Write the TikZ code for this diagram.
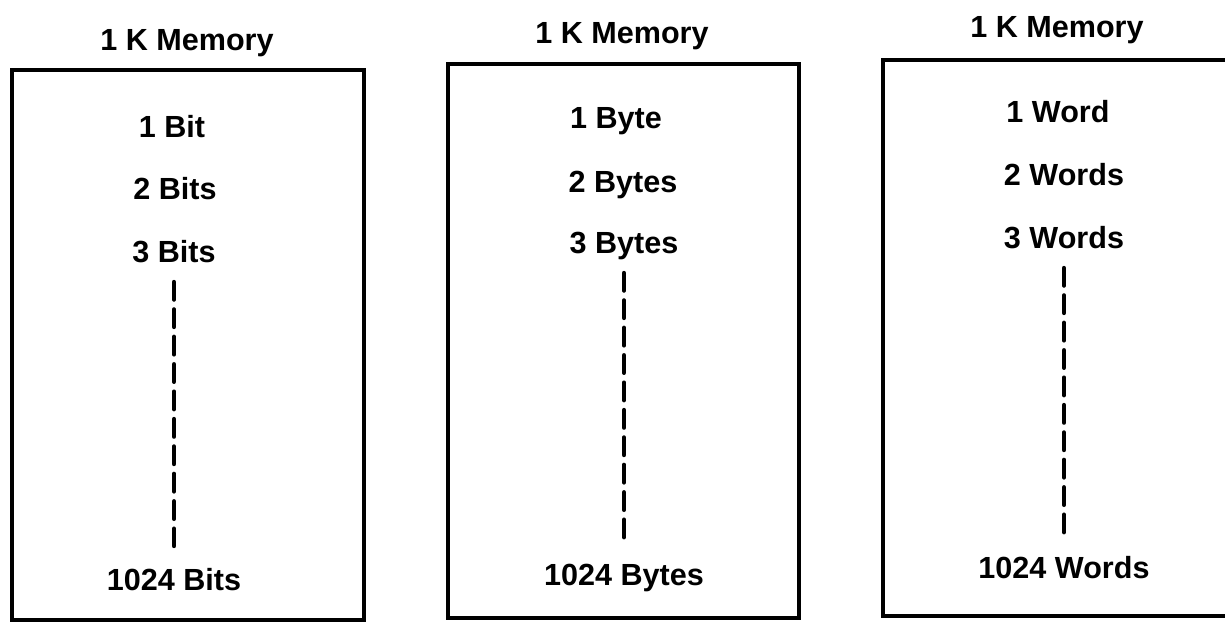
\documentclass[tikz,border=0pt]{standalone}
\usepackage{fontspec}
\setmainfont{Liberation Sans}
\usepackage{tikz}
\usetikzlibrary{positioning}

\begin{document}
\begin{tikzpicture}[
  x=0.02cm, y=-0.02cm,
  every node/.style={font=\fontsize{17.4}{20}\selectfont\bfseries, color=black},
  title/.style={anchor=base, inner sep=0pt},
  item/.style={anchor=base, inner sep=0pt},
  memBox/.style={draw=black, line width=2.6pt, line join=miter},
  dots/.style={draw=black, line width=2.5pt, line cap=round,
    dash pattern=on 10pt off 5.6pt, shorten <=0.4cm, shorten >=0.88cm}
]
\clip (0,0) rectangle (1225,623);

% --- Memory boxes ---
\draw[memBox] (12,70) rectangle (364,620);
\draw[memBox] (448,64) rectangle (799,618);
\draw[memBox] (1240,60) -- (883,60) -- (883,616) -- (1240,616);

% --- Box titles ---
\node[title] (memBit)  at (187,50) {1 K Memory};
\node[title] (memByte) at (622,43) {1 K Memory};
\node[title] (memWord) at (1057,37) {1 K Memory};

% --- Bits ---
\node[item] (bitA) at (172,137) {1 Bit};
\node[item] (bitB) at (175,199) {2 Bits};
\node[item] (bitC) at (174,262) {3 Bits};
\node[item] (bitN) at (174,590) {1024 Bits};

% --- Bytes ---
\node[item] (byteA) at (616,128) {1 Byte};
\node[item] (byteB) at (623,192) {2 Bytes};
\node[item] (byteC) at (624,253) {3 Bytes};
\node[item] (byteN) at (624,585) {1024 Bytes};

% --- Words ---
\node[item] (wordA) at (1058,122) {1 Word};
\node[item] (wordB) at (1064,185) {2 Words};
\node[item] (wordC) at (1064,248) {3 Words};
\node[item] (wordN) at (1064,578) {1024 Words};

% --- Dashed runs ---
\draw[dots] (bitC.base) -- (bitN.base);
\draw[dots] (byteC.base) -- (byteN.base);
\draw[dots] (wordC.base) -- (wordN.base);

\end{tikzpicture}
\end{document}
